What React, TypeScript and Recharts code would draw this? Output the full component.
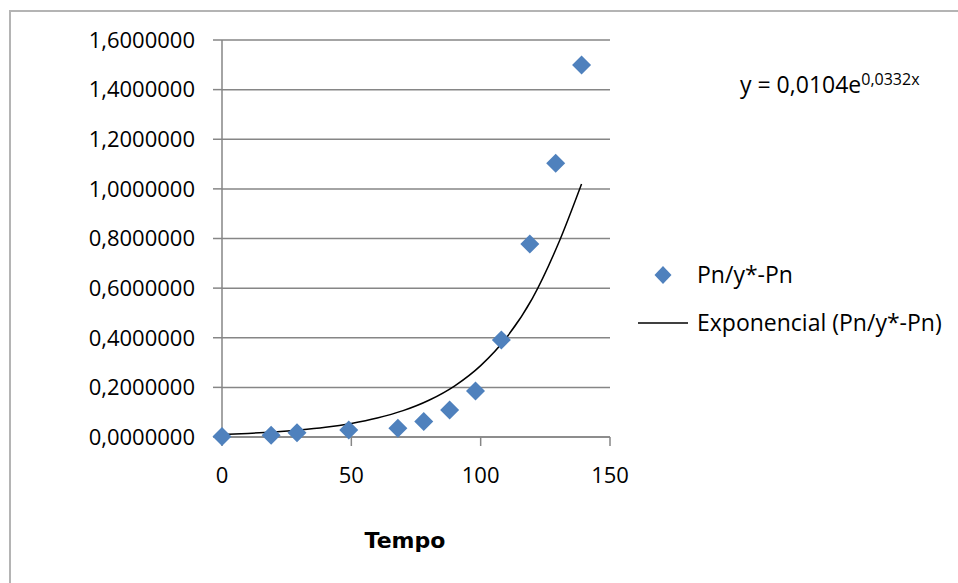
import { CartesianGrid, Label, Legend, Scatter, ScatterChart, XAxis, YAxis } from "recharts"

const tempo = [0, 19, 29, 49, 68, 78, 88, 98, 108, 119, 129, 139]
const razao = [0.002, 0.007, 0.017, 0.028, 0.035, 0.062, 0.109, 0.185, 0.391, 0.778, 1.103, 1.499]

// trendline (y = 0,0104e^0,0332x)
const trendX = [0, 10, 20, 30, 40, 50, 60, 70, 80, 90, 100, 110, 120, 130, 139]
const trendY = [0.0104, 0.0145, 0.0202, 0.0282, 0.0392, 0.0547, 0.0762, 0.1062, 0.1481, 0.2064, 0.2877, 0.4009, 0.5588, 0.7788, 1.0199]

const xTicks = [0, 50, 100, 150]
const yTicks = [0, 0.2, 0.4, 0.6, 0.8, 1.0, 1.2, 1.4, 1.6]

const serieName = "Pn/y*-Pn"
const trendName = "Exponencial (Pn/y*-Pn)"

const pontos = tempo.map((x, i) => ({ x, y: razao[i] }))
const tendencia = trendX.map((x, i) => ({ x, y: trendY[i] }))

const FONT = "'Open Sans', sans-serif"
const BLUE = "#4f81bd"
const GRID = "#868686"

const Diamond = (props: any) => {
  const { cx, cy } = props
  const r = 9.5
  return <polygon points={`${cx},${cy - r} ${cx + r},${cy} ${cx},${cy + r} ${cx - r},${cy}`} fill={BLUE} />
}

const fmt = (v: number) => v.toFixed(7).replace(".", ",")

const LegendBox = () => (
  <div style={{ position: "relative", width: 330, height: 90, fontFamily: FONT, fontSize: 23, color: "#000" }}>
    <svg width={330} height={90} style={{ position: "absolute", left: 0, top: 0 }}>
      <polygon points="33,10 41.5,19 33,28 24.5,19" fill={BLUE} />
      <line x1={8} x2={58} y1={67} y2={67} stroke="#000" strokeWidth={1.5} />
    </svg>
    <div style={{ position: "absolute", left: 67, top: 2, whiteSpace: "nowrap", lineHeight: "32px" }}>{serieName}</div>
    <div style={{ position: "absolute", left: 67, top: 50, whiteSpace: "nowrap", lineHeight: "32px" }}>{trendName}</div>
  </div>
)

export default function App() {
  return (
    <div style={{ position: "absolute", left: 0, top: 0, width: 958, height: 583, background: "#fff", overflow: "hidden" }}>
      <div
        style={{
          position: "absolute",
          left: 9,
          top: 10,
          width: 2000,
          height: 2000,
          borderTop: "2px solid #b4b4b4",
          borderLeft: "2px solid #b4b4b4",
        }}
      />
      <div style={{ position: "absolute", left: 0, top: 0 }}>
        <ScatterChart width={958} height={583} margin={{ top: 40, right: 348, bottom: 16, left: 0 }}>
          <CartesianGrid vertical={false} stroke={GRID} strokeWidth={1.5} />
          <XAxis
            type="number"
            dataKey="x"
            domain={[0, 150]}
            ticks={xTicks}
            height={130}
            tickSize={9}
            tickMargin={21}
            stroke={GRID}
            strokeWidth={1.5}
            tick={{ fill: "#000", fontSize: 22, fontFamily: FONT }}
          >
            <Label
              value="Tempo"
              position="insideBottom"
              offset={19}
              dx={-11}
              style={{ fontFamily: "'DejaVu Sans', sans-serif", fontWeight: "bold", fontSize: 22, fill: "#000" }}
            />
          </XAxis>
          <YAxis
            type="number"
            dataKey="y"
            domain={[0, 1.6]}
            ticks={yTicks}
            width={222}
            tickSize={9}
            tickMargin={18}
            stroke={GRID}
            strokeWidth={1.5}
            tickFormatter={fmt}
            tick={{ fill: "#000", fontSize: 22, fontFamily: FONT }}
          />
          <Legend
            layout="horizontal"
            verticalAlign="middle"
            align="center"
            wrapperStyle={{ position: "absolute", left: 630, top: 256, width: 330 }}
            content={() => <LegendBox />}
          />
          <Scatter
            name={trendName}
            data={tendencia}
            line={{ stroke: "#000", strokeWidth: 1.5 }}
            lineJointType="monotoneX"
            shape={() => <g />}
            isAnimationActive={false}
          />
          <Scatter name={serieName} data={pontos} fill={BLUE} shape={Diamond} isAnimationActive={false} />
        </ScatterChart>
      </div>
      <div style={{ position: "absolute", left: 740, top: 64, fontFamily: FONT, fontSize: 23, color: "#000", whiteSpace: "nowrap", lineHeight: "30px" }}>
        y = 0,0104e<sup style={{ fontSize: 16, verticalAlign: "8px" }}>0,0332x</sup>
      </div>
    </div>
  )
}
